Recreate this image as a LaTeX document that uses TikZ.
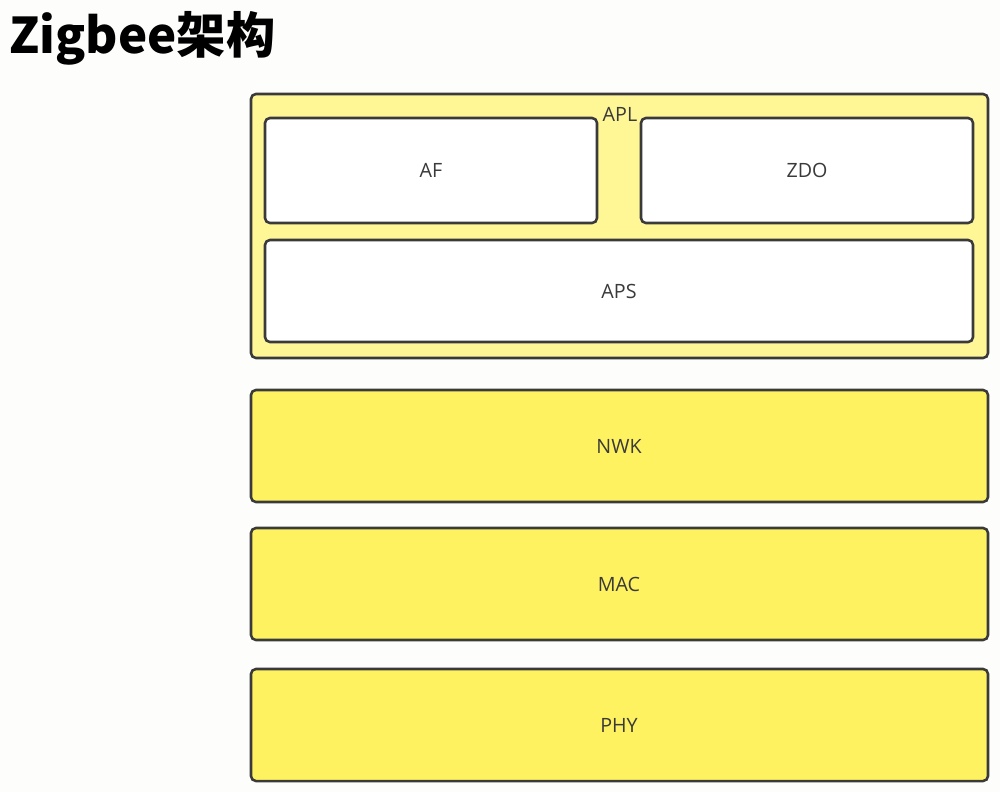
\documentclass[tikz,border=0pt]{standalone}
\usepackage{fontspec}
\setmainfont{Open Sans}
\newfontfamily\cjktitle{Noto Sans CJK SC}
\usepackage{tikz}
\usetikzlibrary{positioning}
\usepackage{xcolor}
\definecolor{aplcol}{RGB}{255,246,150}
\definecolor{layercol}{RGB}{255,242,96}
\definecolor{edgecol}{RGB}{58,58,58}
\definecolor{bgcol}{RGB}{253,253,251}

\tikzset{
  box/.style={draw=edgecol, line width=1.8pt, rounded corners=3.5pt},
  lbl/.style={text=edgecol, font=\fontsize{14}{16}\selectfont, inner sep=0pt}
}

\begin{document}
\begin{tikzpicture}[x=0.025cm, y=-0.025cm]
\fill[bgcol] (0,0) rectangle (1000,792);
\useasboundingbox (0,0) rectangle (1000,792);

% Title
\node[anchor=west, inner sep=0pt, font=\cjktitle\bfseries\fontsize{35}{36}\selectfont] (title) at (9,38) {Zigbee架构};

% APL layer
\fill[aplcol, rounded corners=3.5pt] (251,94) rectangle (988,358);
\draw[box] (251,94) rectangle (988,358);
\node[lbl] (apl) at (620,114) {APL};

\fill[white] (265,118) rectangle (597,223);
\draw[box] (265,118) rectangle (597,223);
\node[lbl] (af) at (431,170) {AF};

\fill[white] (641,118) rectangle (973,223);
\draw[box] (641,118) rectangle (973,223);
\node[lbl] (zdo) at (807,170) {ZDO};

\fill[white] (265,240) rectangle (973,342);
\draw[box] (265,240) rectangle (973,342);
\node[lbl] (aps) at (619,291) {APS};

% NWK layer
\fill[layercol, rounded corners=3.5pt] (251,390) rectangle (988,502);
\draw[box] (251,390) rectangle (988,502);
\node[lbl] (nwk) at (619,446) {NWK};

% MAC layer
\fill[layercol, rounded corners=3.5pt] (251,528) rectangle (988,640);
\draw[box] (251,528) rectangle (988,640);
\node[lbl] (mac) at (619,584) {MAC};

% PHY layer
\fill[layercol, rounded corners=3.5pt] (251,669) rectangle (988,781);
\draw[box] (251,669) rectangle (988,781);
\node[lbl] (phy) at (619,725) {PHY};
\end{tikzpicture}
\end{document}
